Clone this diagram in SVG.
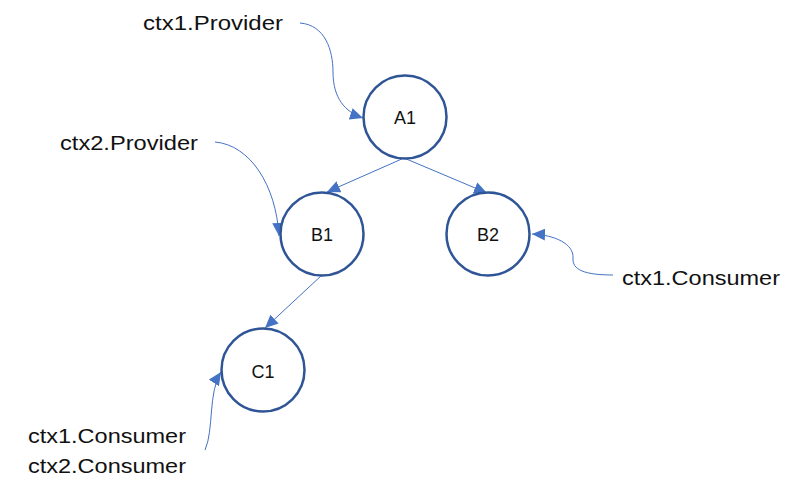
<svg xmlns="http://www.w3.org/2000/svg" width="803" height="498" viewBox="0 0 803 498">
<defs>
<marker id="arr" markerUnits="userSpaceOnUse" markerWidth="14" markerHeight="12" viewBox="0 0 14 12" refX="13" refY="6" orient="auto">
<path d="M0,0 L13,6 L0,12 Z" fill="#4472C4"/>
</marker>
</defs>
<style>
.node circle{fill:#fff;stroke:#2F5597;stroke-width:2.5}
.node text{font-family:"Liberation Sans",Arial,sans-serif;font-size:18px;fill:#111;text-anchor:middle}
.lbl{font-family:"Liberation Sans",Arial,sans-serif;font-size:20px;fill:#111}
.conn path{fill:none;stroke:#4472C4;stroke-width:1;marker-end:url(#arr)}
</style>
<rect width="803" height="498" fill="#fff"/>
<g id="connectors" class="conn">
<path d="M404,158 L327,192"/>
<path d="M404,158 L487,193"/>
<path d="M322,275 L265,328"/>
<path d="M300,23 C325,25 333,50 333,72 C333,98 345,112 363,118"/>
<path d="M215,142 C250,145 276,185 279,236"/>
<path d="M613,275 C585,275 572,270 573,258 C574,244 555,235 532,234"/>
<path d="M205,450 C214,430 208,392 221,372"/>
</g>
<g id="A1" class="node"><circle cx="405" cy="117" r="41.5"/><text x="405" y="124">A1</text></g>
<g id="B1" class="node"><circle cx="322" cy="234" r="41.5"/><text x="322" y="241">B1</text></g>
<g id="B2" class="node"><circle cx="488" cy="234" r="41.5"/><text x="488" y="241">B2</text></g>
<g id="C1" class="node"><circle cx="263" cy="370" r="41.5"/><text x="263" y="378">C1</text></g>
<g id="labels">
<text class="lbl" x="143" y="30" textLength="140" lengthAdjust="spacingAndGlyphs">ctx1.Provider</text>
<text class="lbl" x="60" y="150" textLength="138" lengthAdjust="spacingAndGlyphs">ctx2.Provider</text>
<text class="lbl" x="622" y="285" textLength="158" lengthAdjust="spacingAndGlyphs">ctx1.Consumer</text>
<text class="lbl" x="28" y="443" textLength="158" lengthAdjust="spacingAndGlyphs">ctx1.Consumer</text>
<text class="lbl" x="28" y="473" textLength="158" lengthAdjust="spacingAndGlyphs">ctx2.Consumer</text>
</g>
</svg>
